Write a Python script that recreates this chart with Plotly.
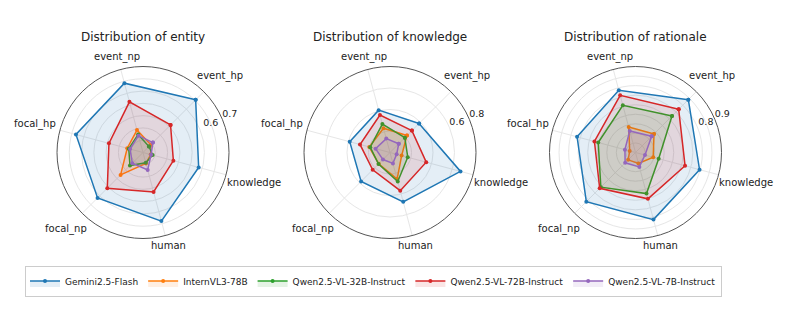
import math
import plotly.graph_objects as go

categories = ["event_hp", "event_np", "focal_hp", "focal_np", "human", "knowledge"]
models = ["Gemini2.5-Flash", "InternVL3-78B", "Qwen2.5-VL-32B-Instruct",
          "Qwen2.5-VL-72B-Instruct", "Qwen2.5-VL-7B-Instruct"]
colors = ["#1f77b4", "#ff7f0e", "#2ca02c", "#d62728", "#9467bd"]
fills = ["rgba(31,119,180,0.12)", "rgba(255,127,14,0.12)", "rgba(44,160,44,0.12)",
         "rgba(214,39,40,0.12)", "rgba(148,103,189,0.12)"]

entity_gemini = [0.606, 0.584, 0.565, 0.523, 0.578, 0.469]
entity_intern = [0.090, 0.189, 0.133, 0.258, 0.092, 0.065]
entity_q32 = [0.069, 0.152, 0.120, 0.150, 0.087, 0.081]
entity_q72 = [0.317, 0.427, 0.287, 0.411, 0.333, 0.256]
entity_q7 = [0.114, 0.142, 0.109, 0.123, 0.147, 0.068]

knowledge_gemini = [0.382, 0.408, 0.388, 0.380, 0.475, 0.679]
knowledge_intern = [0.223, 0.234, 0.200, 0.149, 0.256, 0.112]
knowledge_q32 = [0.195, 0.274, 0.191, 0.151, 0.279, 0.171]
knowledge_q72 = [0.288, 0.361, 0.289, 0.228, 0.368, 0.349]
knowledge_q7 = [0.115, 0.134, 0.139, 0.093, 0.105, 0.064]

rationale_gemini = [0.782, 0.675, 0.633, 0.728, 0.727, 0.694]
rationale_intern = [0.274, 0.276, 0.063, 0.109, 0.119, 0.192]
rationale_q32 = [0.540, 0.512, 0.404, 0.513, 0.445, 0.251]
rationale_q72 = [0.639, 0.620, 0.445, 0.530, 0.502, 0.537]
rationale_q7 = [0.239, 0.233, 0.115, 0.153, 0.156, 0.103]

titles = ["Distribution of entity", "Distribution of knowledge", "Distribution of rationale"]
rmax = [0.7, 0.8, 0.9]
rgrid = [[0.1, 0.2, 0.3, 0.4, 0.5, 0.6, 0.7],
         [0.2, 0.4, 0.6, 0.8],
         [0.1, 0.2, 0.3, 0.4, 0.5, 0.6, 0.7, 0.8, 0.9]]
rlabel_vals = [[0.6, 0.7], [0.6, 0.8], [0.8, 0.9]]
rlabel_text = [["0.6", "0.7"], ["0.6", "0.8"], ["0.8", "0.9"]]
rlabel_pos = [["middle center", "top right"], ["top right", "top right"],
              ["middle center", "top right"]]

panels = [
    [entity_gemini, entity_intern, entity_q32, entity_q72, entity_q7],
    [knowledge_gemini, knowledge_intern, knowledge_q32, knowledge_q72, knowledge_q7],
    [rationale_gemini, rationale_intern, rationale_q32, rationale_q72, rationale_q7],
]

W, H = 793, 310
centers_x = [143, 390, 635.5]
center_y = 152.5
R = 86
ROT = 45

step = 360 / len(categories)
angles = [i * step for i in range(len(categories))]
rlabel_theta = -22.0  # direction of radial labels, relative to first category

# category label placement: text centre just outside the circle, padded by
# the half-extent of the text box projected on the label direction
LABEL_FS = 10
char_w = 0.6 * LABEL_FS
half_h = 0.6 * LABEL_FS
pad = 1.0

fig = go.Figure()
font_family = "DejaVu Sans"

for p, series in enumerate(panels):
    pname = "polar" if p == 0 else f"polar{p+1}"
    for m, vals in enumerate(series):
        fig.add_trace(go.Scatterpolar(
            r=vals + [vals[0]],
            theta=angles + [angles[0]],
            mode="lines+markers",
            line=dict(color=colors[m], width=1.5),
            marker=dict(color=colors[m], size=4),
            fill="toself",
            fillcolor=fills[m],
            name=models[m],
            legendgroup=models[m],
            showlegend=(p == 0),
            subplot=pname,
        ))
    # radial tick labels
    fig.add_trace(go.Scatterpolar(
        r=rlabel_vals[p], theta=[rlabel_theta] * len(rlabel_vals[p]),
        mode="text", text=rlabel_text[p], textposition=rlabel_pos[p],
        textfont=dict(size=9.5, color="#222222", family=font_family),
        showlegend=False, hoverinfo="skip", cliponaxis=False, subplot=pname,
    ))
    cx = centers_x[p]
    # category labels around the circle
    for c, a in zip(categories, angles):
        ab = math.radians(ROT + a)
        hw = len(c) * char_w / 2
        d = R + pad + abs(math.cos(ab)) * hw + abs(math.sin(ab)) * half_h
        lx = cx + d * math.cos(ab)
        ly = center_y - d * math.sin(ab)
        fig.add_annotation(
            x=lx / W, y=(H - ly) / H, xref="paper", yref="paper",
            text=c, showarrow=False, xanchor="center", yanchor="middle",
            font=dict(size=LABEL_FS, color="#222222", family=font_family),
        )
    dom_x = [(cx - R) / W, (cx + R) / W]
    dom_y = [(H - center_y - R) / H, (H - center_y + R) / H]
    fig.update_layout(**{pname: dict(
        domain=dict(x=dom_x, y=dom_y),
        bgcolor="white",
        angularaxis=dict(
            type="linear", thetaunit="degrees",
            rotation=ROT, direction="counterclockwise",
            tickmode="array", tickvals=angles, showticklabels=False,
            showline=True, linecolor="#555555", linewidth=1,
            showgrid=True, gridcolor="#e6e6e6", gridwidth=1, ticks="",
        ),
        radialaxis=dict(
            range=[0, rmax[p]], tickvals=rgrid[p], showticklabels=False,
            showline=False, showgrid=True, gridcolor="#e6e6e6", gridwidth=1,
            ticks="", angle=22.5,
        ),
    )})
    fig.add_annotation(
        x=cx / W, y=(H - 37) / H, xref="paper", yref="paper",
        text=titles[p], showarrow=False, xanchor="center", yanchor="middle",
        font=dict(size=12, color="#222222", family=font_family),
    )

fig.update_layout(
    width=W, height=H,
    margin=dict(l=0, r=0, t=0, b=0, autoexpand=False),
    paper_bgcolor="white", plot_bgcolor="white",
    font=dict(family=font_family, color="#222222"),
    legend=dict(
        orientation="h", x=373.5 / W, y=(H - 281) / H,
        xanchor="center", yanchor="middle",
        bordercolor="#cccccc", borderwidth=1, bgcolor="white",
        font=dict(size=9, family=font_family, color="#222222"),
        itemwidth=30,
    ),
)

fig.write_html("out.html", config={"displayModeBar": False},
               post_script="document.body.style.margin='0';document.body.style.padding='0';")
